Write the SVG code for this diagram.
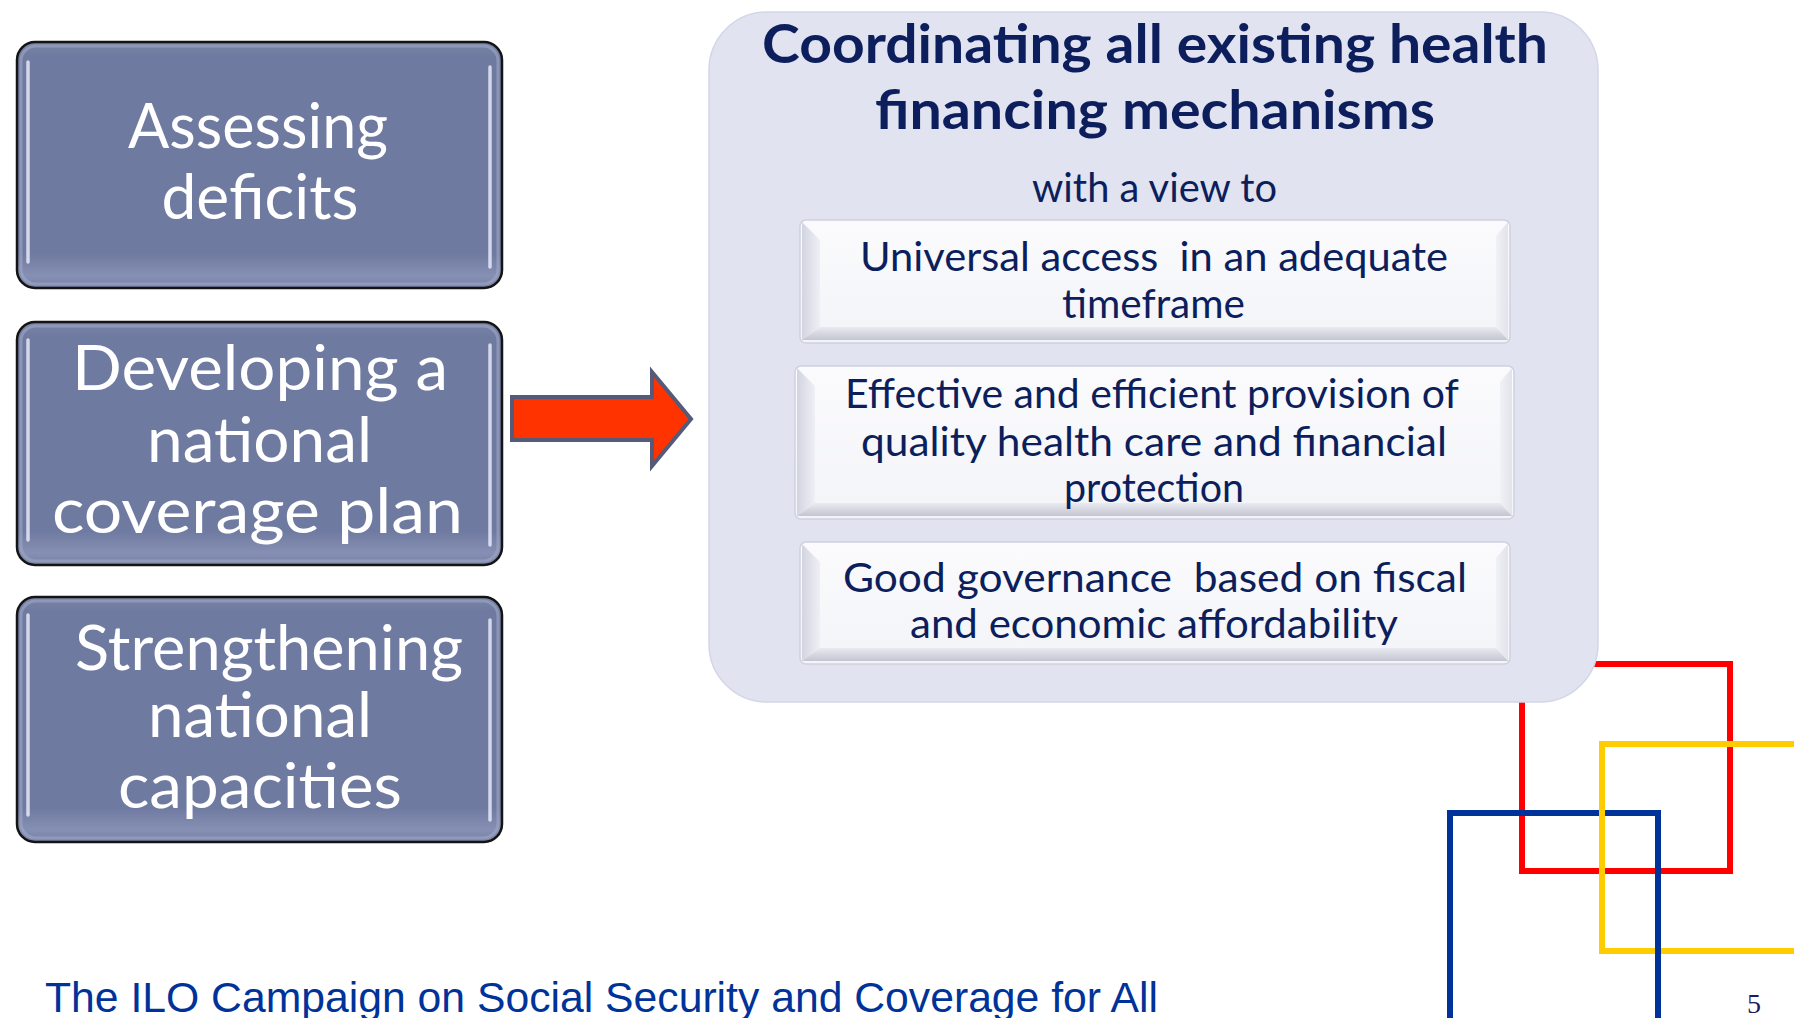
<svg xmlns="http://www.w3.org/2000/svg" width="1794" height="1018" viewBox="0 0 1794 1018">
<defs>
<linearGradient id="lboxFill" x1="0" y1="0" x2="0" y2="1">
<stop offset="0" stop-color="#7a84a8"/>
<stop offset="0.06" stop-color="#6f7aa0"/>
<stop offset="0.86" stop-color="#6f7aa0"/>
<stop offset="0.95" stop-color="#8690b4"/>
<stop offset="1" stop-color="#7680a6"/>
</linearGradient>
<linearGradient id="ibFill" x1="0" y1="0" x2="0" y2="1">
<stop offset="0" stop-color="#fbfbfd"/>
<stop offset="1" stop-color="#f3f4f8"/>
</linearGradient>
<linearGradient id="bevL" x1="0" y1="0" x2="1" y2="0">
<stop offset="0" stop-color="#d2d4e0"/>
<stop offset="1" stop-color="#eff0f5"/>
</linearGradient>
<linearGradient id="bevB" x1="0" y1="0" x2="0" y2="1">
<stop offset="0" stop-color="#e9eaf1"/>
<stop offset="1" stop-color="#c3c5d1"/>
</linearGradient>
<linearGradient id="bevR" x1="0" y1="0" x2="1" y2="0">
<stop offset="0" stop-color="#f1f2f6"/>
<stop offset="1" stop-color="#e2e3eb"/>
</linearGradient>
</defs>
<style>
.lbox{fill:url(#lboxFill);stroke:#141414;stroke-width:2.5}
.lring{fill:none;stroke:#a3abc9;stroke-width:3;opacity:0.55}
.hl{stroke:#e6e9f8;stroke-width:3.5;stroke-linecap:round;opacity:0.85}
.ltxt{font-family:Lato,"Noto Sans",sans-serif;font-size:62px;fill:#ffffff;text-anchor:middle}
.panel{fill:#e1e3f0;stroke:#d3d6e6;stroke-width:1.5}
.title{font-family:Lato,"Noto Sans",sans-serif;font-weight:700;font-size:54px;fill:#0c1f5c;text-anchor:middle}
.itxt{font-family:Lato,"Noto Sans",sans-serif;font-size:40px;fill:#0c1f5c;text-anchor:middle}
.ibox{fill:url(#ibFill);stroke:#cfd1de;stroke-width:1.5}
.sq{fill:none;stroke-width:6}
.footer{font-family:"Liberation Sans",Arial,sans-serif;font-size:43px;fill:#003399}
.pnum{font-family:"Liberation Serif","Times New Roman",serif;font-size:28px;fill:#1a1a66}
</style>

<g id="decor-squares">
<rect class="sq" x="1522" y="664" width="208" height="207" stroke="#ff0000"/>
<rect class="sq" x="1450" y="813" width="208" height="400" stroke="#003399"/>
<rect class="sq" x="1602" y="744" width="400" height="207" stroke="#ffcc00"/>
<line x1="1658" y1="946" x2="1658" y2="956" stroke="#003399" stroke-width="6"/>
</g>

<g id="node-assessing">
<rect class="lbox" x="17" y="42" width="485" height="246" rx="18"/>
<rect class="lring" x="21" y="46" width="477" height="238" rx="15"/>
<line class="hl" x1="28" y1="62" x2="28" y2="262"/>
<line class="hl" x1="490" y1="67" x2="490" y2="267"/>
<text class="ltxt" x="258" y="148" textLength="260" lengthAdjust="spacingAndGlyphs">Assessing</text>
<text class="ltxt" x="260" y="219" textLength="197" lengthAdjust="spacingAndGlyphs">deficits</text>
</g>

<g id="node-developing">
<rect class="lbox" x="17" y="322" width="485" height="243" rx="18"/>
<rect class="lring" x="21" y="326" width="477" height="235" rx="15"/>
<line class="hl" x1="28" y1="340" x2="28" y2="540"/>
<line class="hl" x1="490" y1="345" x2="490" y2="545"/>
<text class="ltxt" x="260" y="390" textLength="376" lengthAdjust="spacingAndGlyphs">Developing a</text>
<text class="ltxt" x="259.5" y="462" textLength="225" lengthAdjust="spacingAndGlyphs">national</text>
<text class="ltxt" x="257.5" y="533" textLength="411" lengthAdjust="spacingAndGlyphs">coverage plan</text>
</g>

<g id="node-strengthening">
<rect class="lbox" x="17" y="597" width="485" height="245" rx="18"/>
<rect class="lring" x="21" y="601" width="477" height="237" rx="15"/>
<line class="hl" x1="28" y1="615" x2="28" y2="815"/>
<line class="hl" x1="490" y1="620" x2="490" y2="820"/>
<text class="ltxt" x="269" y="670" textLength="388" lengthAdjust="spacingAndGlyphs">Strengthening</text>
<text class="ltxt" x="260" y="737" textLength="224" lengthAdjust="spacingAndGlyphs">national</text>
<text class="ltxt" x="260" y="808" textLength="284" lengthAdjust="spacingAndGlyphs">capacities</text>
</g>

<g id="connectors">
<polygon points="512,397 652,397 652,372 691,419 652,466 652,440 512,440" fill="#ff3300" stroke="#545a78" stroke-width="4" stroke-linejoin="miter"/>
</g>

<g id="node-coordinating">
<rect class="panel" x="709" y="12" width="889" height="690" rx="58"/>
<text class="title" x="1155" y="63" textLength="786" lengthAdjust="spacingAndGlyphs">Coordinating all existing health</text>
<text class="title" x="1155" y="129" textLength="560" lengthAdjust="spacingAndGlyphs">financing mechanisms</text>
<text class="itxt" x="1154.5" y="202" textLength="245" lengthAdjust="spacingAndGlyphs">with a view to</text>
</g>

<g id="node-universal">
<rect class="ibox" x="800" y="220" width="710" height="123" rx="6"/>
<polygon points="802,222 820,240 820,327 802,340" fill="url(#bevL)"/>
<polygon points="1508,222 1496,236 1496,327 1508,340" fill="url(#bevR)"/>
<polygon points="802,340 820,327 1496,327 1508,340" fill="url(#bevB)"/>
<text class="itxt" x="1154" y="271" textLength="588" lengthAdjust="spacingAndGlyphs" xml:space="preserve">Universal access  in an adequate</text>
<text class="itxt" x="1153.5" y="318" textLength="183" lengthAdjust="spacingAndGlyphs">timeframe</text>
</g>

<g id="node-effective">
<rect class="ibox" x="795" y="366" width="719" height="153" rx="6"/>
<polygon points="797,368 815,386 815,503 797,516" fill="url(#bevL)"/>
<polygon points="1512,368 1500,382 1500,503 1512,516" fill="url(#bevR)"/>
<polygon points="797,516 815,503 1500,503 1512,516" fill="url(#bevB)"/>
<text class="itxt" x="1152" y="408" textLength="614" lengthAdjust="spacingAndGlyphs">Effective and efficient provision of</text>
<text class="itxt" x="1154" y="456" textLength="586" lengthAdjust="spacingAndGlyphs">quality health care and financial</text>
<text class="itxt" x="1154" y="502" textLength="180" lengthAdjust="spacingAndGlyphs">protection</text>
</g>

<g id="node-governance">
<rect class="ibox" x="800" y="542" width="710" height="122" rx="6"/>
<polygon points="802,544 820,562 820,648 802,661" fill="url(#bevL)"/>
<polygon points="1508,544 1496,558 1496,648 1508,661" fill="url(#bevR)"/>
<polygon points="802,661 820,648 1496,648 1508,661" fill="url(#bevB)"/>
<text class="itxt" x="1155" y="592" textLength="624" lengthAdjust="spacingAndGlyphs" xml:space="preserve">Good governance  based on fiscal</text>
<text class="itxt" x="1154" y="638" textLength="488" lengthAdjust="spacingAndGlyphs">and economic affordability</text>
</g>

<g id="footer">
<text class="footer" x="45" y="1012" textLength="1113" lengthAdjust="spacingAndGlyphs">The ILO Campaign on Social Security and Coverage for All</text>
<text class="pnum" x="1747" y="1013">5</text>
</g>
</svg>
